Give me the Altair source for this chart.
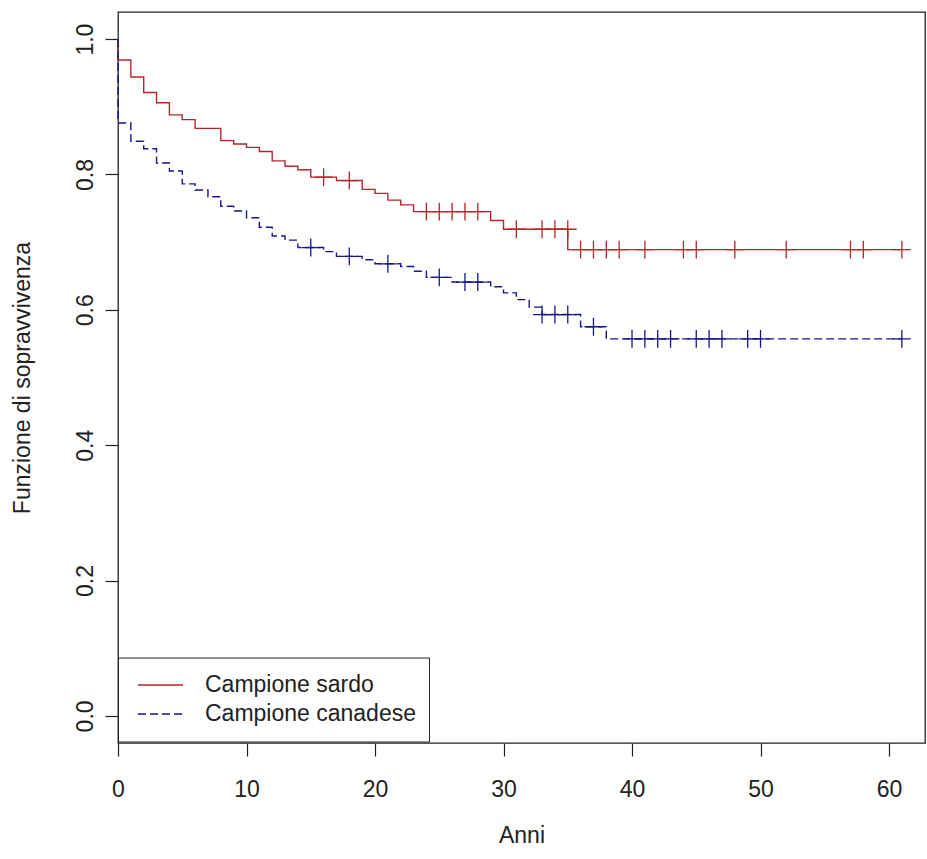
import altair as alt
import pandas as pd

series = ["Campione sardo", "Campione canadese"]
colors = ["#B3262A", "#16168A"]

# Kaplan-Meier steps (time, survival after the step)
red_t = [0, 0, 1, 2, 3, 4, 5, 6, 8, 9, 10, 11, 12, 13, 14, 15, 17, 19, 20, 21, 22, 23, 29, 30, 35, 61]
red_s = [1.0, 0.969, 0.944, 0.921, 0.906, 0.888, 0.881, 0.868, 0.850, 0.845, 0.840, 0.834, 0.820,
         0.812, 0.807, 0.796, 0.791, 0.778, 0.772, 0.762, 0.755, 0.745, 0.732, 0.719, 0.689, 0.689]

blue_t = [0, 0, 1, 2, 3, 4, 5, 6, 7, 8, 9, 10, 11, 12, 13, 14, 16, 17, 19, 20, 22, 23, 24, 26,
          29, 30, 31, 32, 33, 36, 38, 61]
blue_s = [1.0, 0.876, 0.849, 0.838, 0.817, 0.805, 0.786, 0.777, 0.767, 0.753, 0.746, 0.736, 0.722,
          0.709, 0.703, 0.692, 0.686, 0.679, 0.674, 0.668, 0.664, 0.657, 0.648, 0.641, 0.634,
          0.625, 0.615, 0.604, 0.593, 0.575, 0.557, 0.557]

# censored observations
red_ct = [16, 18, 24, 25, 26, 27, 28, 31, 33, 34, 35, 36, 37, 38, 39, 41, 44, 45, 48, 52, 57, 58, 61]
red_cs = [0.796, 0.791] + [0.745] * 5 + [0.719] * 4 + [0.689] * 12

blue_ct = [15, 18, 21, 25, 27, 28, 33, 34, 35, 37, 40, 41, 42, 43, 45, 46, 47, 49, 50, 61]
blue_cs = [0.692, 0.679, 0.668, 0.648, 0.641, 0.641, 0.593, 0.593, 0.593, 0.575] + [0.557] * 10

x_ticks = [0, 10, 20, 30, 40, 50, 60]
y_ticks = [0.0, 0.2, 0.4, 0.6, 0.8, 1.0]

rows = []
for name, ts, ss in [(series[0], red_t, red_s), (series[1], blue_t, blue_s)]:
    for i, (t, s) in enumerate(zip(ts, ss)):
        rows.append({"t": t, "s": s, "serie": name, "i": i})
df_lines = pd.DataFrame(rows)

crow = []
for name, ts, ss in [(series[0], red_ct, red_cs), (series[1], blue_ct, blue_cs)]:
    for t, s in zip(ts, ss):
        crow.append({"t": t, "s": s, "serie": name})
df_cens = pd.DataFrame(crow)

FONT = "Liberation Sans"
TXT = "#222222"

xscale = alt.Scale(domain=[0, 62.8], nice=False, zero=False)
yscale = alt.Scale(domain=[-0.04, 1.04], nice=False, zero=False)

xaxis = alt.Axis(values=x_ticks, format="d", domain=False, grid=False, tickSize=13,
                 tickColor=TXT, tickWidth=1.2, labelFont=FONT, labelFontSize=23,
                 labelColor=TXT, labelBaseline="middle", labelPadding=33, labelFlush=False,
                 labelOverlap=False, title="Anni", titleFont=FONT, titleFontSize=23,
                 titleFontWeight="normal", titleColor=TXT, titleBaseline="middle", titleY=92)
yaxis = alt.Axis(values=y_ticks, format=".1f", domain=False, grid=False, tickSize=13,
                 tickColor=TXT, tickWidth=1.2, labelFont=FONT, labelFontSize=23,
                 labelColor=TXT, labelAngle=270, labelAlign="center", labelBaseline="middle",
                 labelPadding=20, labelOverlap=False, labelFlush=False,
                 title="Funzione di sopravvivenza", titleFont=FONT, titleFontSize=23,
                 titleFontWeight="normal", titleColor=TXT, titleAngle=270,
                 titleBaseline="middle", titleAlign="center", titleX=-96)

legend = alt.Legend(orient="none", legendX=0, legendY=645.5, title=None,
                    strokeColor=TXT, fillColor="white", padding=13, symbolOffset=6,
                    clipHeight=29, rowPadding=0, symbolType="stroke", symbolSize=2025,
                    symbolStrokeWidth=1.4, labelFont=FONT, labelFontSize=23,
                    labelColor=TXT, labelOffset=21, cornerRadius=0, labelLimit=400)

lines = alt.Chart(df_lines).mark_line(interpolate="step-after", strokeWidth=1.4).encode(
    x=alt.X("t:Q", scale=xscale, axis=xaxis),
    y=alt.Y("s:Q", scale=yscale, axis=yaxis),
    color=alt.Color("serie:N", scale=alt.Scale(domain=series, range=colors), legend=legend),
    strokeDash=alt.StrokeDash("serie:N", scale=alt.Scale(domain=series, range=[[1, 0], [8, 4]]),
                              legend=legend),
    order=alt.Order("i:Q"),
    detail="serie:N",
)

points = alt.Chart(df_cens).mark_point(shape="M -1 0 L 1 0 M 0 -1 L 0 1", filled=False,
                                       size=320, strokeWidth=1.3, opacity=1).encode(
    x=alt.X("t:Q", scale=xscale, axis=xaxis),
    y=alt.Y("s:Q", scale=yscale, axis=yaxis),
    stroke=alt.Stroke("serie:N", scale=alt.Scale(domain=series, range=colors), legend=None),
)

chart = alt.layer(lines, points).properties(
    width=807, height=731,
    autosize=alt.AutoSizeParams(type="none"),
    padding={"left": 118, "top": 12, "right": 2, "bottom": 116},
    background="white",
).configure_view(stroke=TXT, strokeWidth=1.3)

chart.save("out.html", embed_options={"renderer": "svg", "actions": False})
